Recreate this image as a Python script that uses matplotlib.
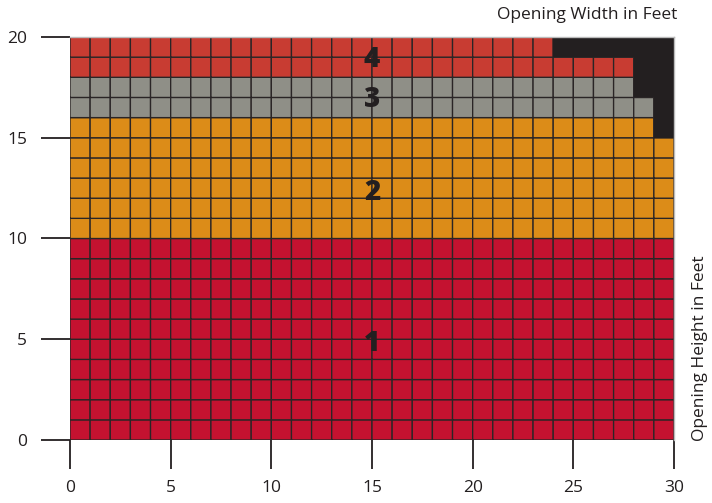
import numpy as np
import matplotlib
matplotlib.use("Agg")
import matplotlib.pyplot as plt
from matplotlib.colors import ListedColormap

plt.rcParams['font.family'] = ['Open Sans', 'DejaVu Sans']

# Data
n_cols = 30
zone_by_row = [1]*10 + [2]*6 + [3]*2 + [4]*2          # rows 0..19 (bottom to top)
row_width = [30]*15 + [29, 29, 28, 28, 24]           # usable width per row
zone_labels = ['1', '2', '3', '4']
zone_label_y = [4.8, 12.3, 16.9, 18.9]
zone_label_x = 15
zone_colors = ['#C41230', '#DC8C18', '#8F8F87', '#C83C32']
x_ticks = [0, 5, 10, 15, 20, 25, 30]
y_ticks = [0, 5, 10, 15, 20]

n_rows = len(zone_by_row)
grid = np.zeros((n_rows, n_cols))
blocked = np.zeros((n_rows, n_cols), dtype=bool)
for r in range(n_rows):
    grid[r, :] = zone_by_row[r]
    blocked[r, row_width[r]:] = True

fig = plt.figure(figsize=(7.12, 5.03), dpi=100)
ax = fig.add_axes([70/712, 63/503, 604/712, 403/503])

xe = np.arange(n_cols + 1)
ye = np.arange(n_rows + 1)

# zone cells
cells = np.ma.masked_where(blocked, grid)
ax.pcolormesh(xe, ye, cells, cmap=ListedColormap(zone_colors), vmin=0.5, vmax=4.5,
              edgecolors='#2A2526', linewidth=0.95, antialiased=True, snap=False, zorder=1)

# blocked (black) region drawn on top so no grid lines show through it
blk = np.ma.masked_where(~blocked, np.ones_like(grid))
ax.pcolormesh(xe, ye, blk, cmap=ListedColormap(['#231F20']), linewidth=0,
              antialiased=False, zorder=2)

for lab, ly in zip(zone_labels, zone_label_y):
    ax.text(zone_label_x, ly, lab, ha='center', va='center', fontsize=20,
            fontweight='heavy', color='#231F20', zorder=5)

ax.set_xlim(0, n_cols)
ax.set_ylim(0, n_rows)
ax.set_xticks(x_ticks)
ax.set_yticks(y_ticks)
ax.tick_params(axis='both', length=21, width=1.3, color='#231F20',
               labelsize=12.5, labelcolor='#231F20')
ax.tick_params(axis='x', pad=8)
ax.tick_params(axis='y', pad=10)
for s in ['left', 'bottom']:
    ax.spines[s].set_visible(False)
for s in ['top', 'right']:
    ax.spines[s].set_color('#BBBBBB')
    ax.spines[s].set_linewidth(1.0)

fig.text(677/712, 1 - 15/503, 'Opening Width in Feet', ha='right', va='center',
         fontsize=12.5, color='#231F20')
fig.text(700/712, 1 - 441/503, 'Opening Height in Feet', ha='center', va='bottom',
         rotation=90, fontsize=12.5, color='#231F20')

fig.savefig('out.png', dpi=100)
